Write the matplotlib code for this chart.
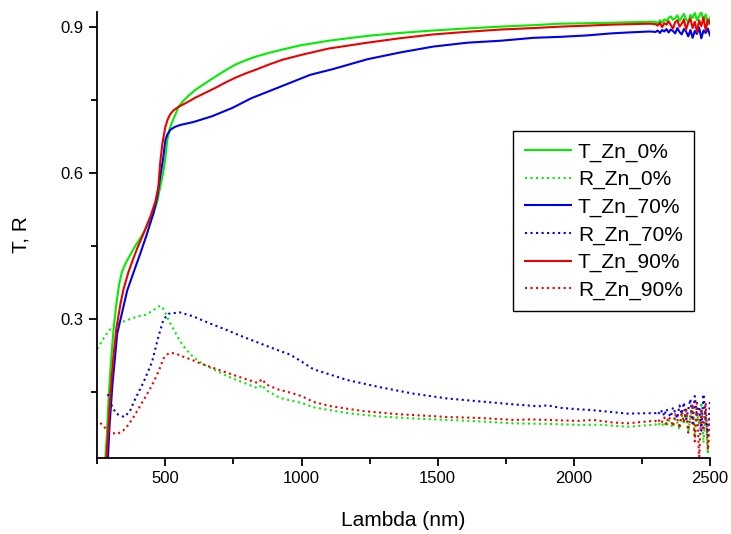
import matplotlib.pyplot as plt
from matplotlib.ticker import MultipleLocator

plt.rcParams['font.family'] = ['Liberation Sans', 'DejaVu Sans']

# transmission, Zn 0%
wl_t0 = [278, 285, 292, 300, 310, 320, 330, 340, 355, 370, 390, 410, 437, 456, 470, 481, 492,
         500, 507, 516, 525, 537, 548, 562, 585, 610, 650, 683, 720, 757, 800, 830, 880, 930,
         1000, 1100, 1242, 1360, 1484, 1600, 1731, 1850, 1951, 2050, 2135, 2200, 2280]
t0 = [0.00, 0.06, 0.14, 0.21, 0.28, 0.33, 0.37, 0.395, 0.415, 0.43, 0.45, 0.467, 0.495, 0.516,
      0.54, 0.57, 0.60, 0.63, 0.667, 0.69, 0.704, 0.72, 0.735, 0.745, 0.758, 0.77, 0.785, 0.797,
      0.81, 0.822, 0.832, 0.838, 0.846, 0.853, 0.862, 0.871, 0.881, 0.887, 0.892, 0.896, 0.900,
      0.903, 0.906, 0.907, 0.908, 0.909, 0.910]

# transmission, Zn 70%
wl_t70 = [288, 295, 305, 315, 323, 340, 360, 380, 408, 430, 456, 470, 481, 492, 500, 507, 518,
          535, 555, 603, 672, 746, 816, 911, 1032, 1117, 1242, 1363, 1484, 1609, 1731, 1852,
          1951, 2050, 2135, 2200, 2280]
t70 = [0.00, 0.08, 0.16, 0.22, 0.269, 0.31, 0.358, 0.39, 0.434, 0.47, 0.516, 0.55, 0.591, 0.63,
       0.667, 0.678, 0.688, 0.694, 0.698, 0.704, 0.716, 0.733, 0.753, 0.774, 0.801, 0.813,
       0.833, 0.847, 0.859, 0.867, 0.871, 0.877, 0.879, 0.882, 0.886, 0.888, 0.890]

# transmission, Zn 90%
wl_t90 = [282, 290, 300, 309, 320, 335, 346, 364, 380, 397, 420, 445, 463, 474, 481, 489, 500,
          509, 518, 530, 548, 575, 610, 650, 683, 720, 757, 800, 830, 880, 930, 1000, 1100,
          1242, 1360, 1484, 1600, 1731, 1850, 1951, 2050, 2135, 2200, 2280]
t90 = [0.00, 0.07, 0.16, 0.22, 0.28, 0.33, 0.36, 0.395, 0.42, 0.445, 0.475, 0.51, 0.54, 0.57,
       0.62, 0.66, 0.694, 0.71, 0.72, 0.728, 0.735, 0.743, 0.754, 0.765, 0.774, 0.785, 0.795,
       0.805, 0.811, 0.822, 0.832, 0.842, 0.855, 0.867, 0.876, 0.884, 0.889, 0.894, 0.897,
       0.900, 0.902, 0.904, 0.905, 0.906]

# reflection, Zn 0%
wl_r0 = [250, 265, 279, 300, 316, 340, 364, 400, 426, 450, 474, 485, 495, 511, 525, 537, 550,
         566, 590, 610, 635, 658, 700, 731, 790, 840, 855, 870, 922, 1000, 1044, 1168, 1290,
         1411, 1536, 1657, 1778, 1903, 2013, 2100, 2197, 2293]
r0 = [0.238, 0.252, 0.265, 0.28, 0.288, 0.293, 0.298, 0.305, 0.308, 0.315, 0.325, 0.326, 0.318,
      0.298, 0.283, 0.271, 0.258, 0.244, 0.228, 0.218, 0.208, 0.201, 0.19, 0.181, 0.168, 0.157,
      0.164, 0.153, 0.137, 0.127, 0.118, 0.106, 0.099, 0.095, 0.092, 0.089, 0.085, 0.084,
      0.082, 0.082, 0.078, 0.082]

# reflection, Zn 70%
wl_r70 = [289, 300, 319, 349, 370, 385, 421, 451, 475, 493, 511, 553, 601, 660, 720, 780, 840,
          900, 959, 1000, 1044, 1168, 1290, 1411, 1536, 1657, 1778, 1870, 1903, 1950, 2013,
          2072, 2197, 2293]
r70 = [0.145, 0.125, 0.105, 0.098, 0.11, 0.13, 0.171, 0.211, 0.264, 0.298, 0.31, 0.313, 0.305,
       0.291, 0.278, 0.264, 0.251, 0.238, 0.226, 0.212, 0.196, 0.174, 0.159, 0.146, 0.136,
       0.13, 0.124, 0.12, 0.122, 0.117, 0.114, 0.112, 0.105, 0.106]

# reflection, Zn 90%
wl_r90 = [261, 280, 300, 323, 345, 361, 380, 396, 420, 439, 455, 469, 481, 493, 505, 517, 540,
          565, 595, 624, 660, 696, 732, 768, 800, 840, 855, 870, 912, 960, 1000, 1044, 1100,
          1168, 1230, 1290, 1350, 1411, 1480, 1536, 1600, 1657, 1720, 1778, 1840, 1903, 1960,
          2013, 2072, 2140, 2197, 2250, 2293]
r90 = [0.086, 0.075, 0.066, 0.063, 0.07, 0.08, 0.095, 0.11, 0.133, 0.151, 0.168, 0.184, 0.2,
       0.218, 0.226, 0.23, 0.228, 0.222, 0.216, 0.209, 0.202, 0.195, 0.188, 0.181, 0.175, 0.168,
       0.176, 0.165, 0.155, 0.148, 0.141, 0.129, 0.121, 0.115, 0.11, 0.107, 0.104, 0.102, 0.1,
       0.098, 0.097, 0.096, 0.094, 0.092, 0.093, 0.092, 0.091, 0.09, 0.092, 0.087, 0.085,
       0.088, 0.09]

# noisy detector end of the spectra
wl_tail = [2300, 2308, 2316, 2324, 2332, 2340, 2348, 2356, 2364, 2372, 2380, 2388, 2396,
           2404, 2412, 2420, 2428, 2436, 2444, 2452, 2460, 2468, 2476, 2484, 2492, 2500]
t0_tail = [0.910, 0.906, 0.913, 0.908, 0.915, 0.911, 0.918, 0.921, 0.914, 0.917, 0.923, 0.912,
           0.919, 0.926, 0.915, 0.909, 0.924, 0.918, 0.928, 0.913, 0.921, 0.930, 0.911, 0.925,
           0.904, 0.918]
t70_tail = [0.889, 0.892, 0.887, 0.893, 0.890, 0.895, 0.888, 0.894, 0.891, 0.886, 0.897, 0.889,
            0.884, 0.895, 0.890, 0.880, 0.893, 0.877, 0.891, 0.885, 0.898, 0.876, 0.892, 0.887,
            0.896, 0.882]
t90_tail = [0.905, 0.902, 0.908, 0.899, 0.907, 0.904, 0.911, 0.903, 0.896, 0.909, 0.913, 0.900,
            0.906, 0.915, 0.894, 0.908, 0.917, 0.897, 0.910, 0.889, 0.913, 0.901, 0.919, 0.892,
            0.915, 0.906]
r0_tail = [0.083, 0.079, 0.086, 0.081, 0.088, 0.078, 0.092, 0.084, 0.076, 0.095, 0.087, 0.072,
           0.101, 0.083, 0.110, 0.068, 0.096, 0.118, 0.060, 0.105, 0.082, 0.128, 0.045, 0.112,
           0.022, 0.095]
r70_tail = [0.106, 0.110, 0.103, 0.112, 0.100, 0.115, 0.105, 0.098, 0.118, 0.107, 0.095, 0.122,
            0.104, 0.128, 0.092, 0.113, 0.135, 0.085, 0.141, 0.100, 0.120, 0.070, 0.145, 0.095,
            0.060, 0.130]
r90_tail = [0.090, 0.086, 0.094, 0.088, 0.097, 0.083, 0.099, 0.091, 0.079, 0.104, 0.093, 0.075,
            0.110, 0.087, 0.118, 0.066, 0.101, 0.125, 0.048, 0.132, 0.010, 0.115, 0.070, 0.128,
            0.030, 0.105]

labels = ['T_Zn_0%', 'R_Zn_0%', 'T_Zn_70%', 'R_Zn_70%', 'T_Zn_90%', 'R_Zn_90%']

series = [
    (wl_t0 + wl_tail, t0 + t0_tail, '#00ee00', '-'),
    (wl_r0 + wl_tail, r0 + r0_tail, '#00ee00', ':'),
    (wl_t70 + wl_tail, t70 + t70_tail, '#0000ee', '-'),
    (wl_r70 + wl_tail, r70 + r70_tail, '#0000ee', ':'),
    (wl_t90 + wl_tail, t90 + t90_tail, '#ee0000', '-'),
    (wl_r90 + wl_tail, r90 + r90_tail, '#ee0000', ':'),
]

fig = plt.figure(figsize=(7.31, 5.34), dpi=100)
ax = fig.add_axes([0.1327, 0.1423, 0.8386, 0.8352])

for (x, y, c, ls), lab in zip(series, labels):
    ax.plot(x, y, color=c, linestyle=ls, linewidth=1.5, label=lab)

ax.set_xlim(249, 2500)
ax.set_ylim(0.0138, 0.930)
ax.xaxis.set_major_locator(MultipleLocator(500))
ax.xaxis.set_minor_locator(MultipleLocator(250))
ax.yaxis.set_major_locator(MultipleLocator(0.3))
ax.yaxis.set_minor_locator(MultipleLocator(0.15))

for s in ['top', 'right']:
    ax.spines[s].set_visible(False)
for s in ['left', 'bottom']:
    ax.spines[s].set_linewidth(1.3)
ax.tick_params(which='major', direction='out', length=6, width=1.3, labelsize=12)
ax.tick_params(which='minor', direction='out', length=4, width=1.3)

ax.set_xlabel('Lambda (nm)', fontsize=15, labelpad=18)
ax.set_ylabel('T, R', fontsize=15, labelpad=22)

leg = ax.legend(loc='upper left', bbox_to_anchor=(0.679, 0.733), borderaxespad=0,
                fontsize=15, fancybox=False, framealpha=1, edgecolor='black',
                handlelength=2.2, handletextpad=0.35, labelspacing=0.4, borderpad=0.55)
leg.get_frame().set_linewidth(1.0)

fig.savefig('out.png', dpi=100)
